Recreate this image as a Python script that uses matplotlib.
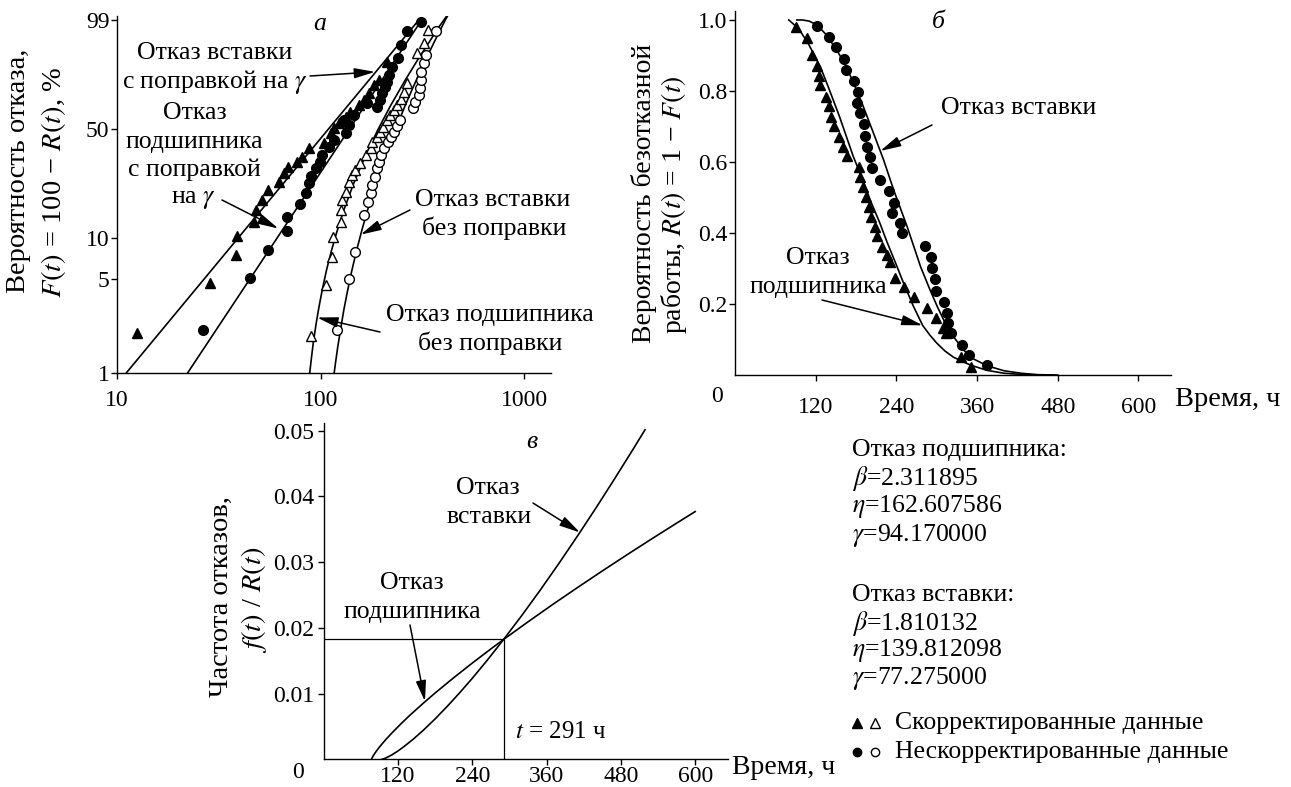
import numpy as np
import matplotlib
matplotlib.use('Agg')
import matplotlib.pyplot as plt
from matplotlib.ticker import NullLocator

plt.rcParams['font.family'] = ['Liberation Serif', 'DejaVu Serif']
plt.rcParams['mathtext.fontset'] = 'stix'
plt.rcParams['font.size'] = 17
plt.rcParams['axes.linewidth'] = 1.0

W, H = 1291, 787

# ---- panel a: Weibull probability plot (t, F %) ----
ins_cor_t = [12.6, 28.6, 38.3, 38.8, 47.1, 48.0, 51.4, 54.8, 62.5, 66.1, 68.7, 76.3, 81.3, 87.6,
             103.8, 112, 116, 123, 132.5, 140, 154, 163, 172.5, 182.5, 193, 212]
ins_cor_F = [2.0, 4.7, 7.5, 10.3, 13.0, 15.7, 18.3, 21.4, 24.3, 27.5, 30.3, 32.6, 34.9, 39.2,
             41.9, 47.5, 50.5, 53.6, 57.7, 60.9, 65.2, 68.3, 72.5, 77.5, 80.4, 89.3]
bear_cor_t = [26.3, 45.0, 54.8, 68.1, 68.1, 79.2, 84.4, 87.6, 89.6, 94.5, 99.4, 101.8, 110, 116,
              132.5, 137.3, 129.6, 145, 169, 188, 195.5, 200.5, 206, 212, 216, 224.6, 239.3, 247,
              266, 311.7]
bear_cor_F = [2.1, 5.1, 8.1, 11.2, 13.9, 17.2, 20.4, 23.7, 26.6, 29.6, 32.5, 35.8, 40.0, 43.7,
              47.5, 52.5, 55.6, 58.8, 66.2, 64.1, 68.3, 72.5, 76.1, 79.4, 83.1, 87.1, 90.7, 95.0,
              97.7, 98.8]
ins_unc_t = [89.3, 105.8, 114, 115, 125.3, 125.3, 127.7, 132.6, 137.6, 142.7, 147.9, 156.5, 166,
             175.6, 179, 188, 195.5, 203, 212, 220, 228.5, 237.5, 246.7, 256, 265.8, 297, 320, 337]
ins_unc_F = [1.9, 4.5, 7.3, 10.1, 13.0, 15.7, 18.3, 20.9, 24.0, 26.9, 28.9, 31.8, 35.8,
             39.2, 42.8, 45.6, 48.5, 51.5, 55.6, 58.8, 62.0, 65.2, 68.8, 73.5, 78.5, 92.5, 95.4, 97.9]
bear_unc_t = [120.8, 137.5, 148, 163, 171, 175.6, 179, 183.8, 188.5, 193.4, 197.2, 205, 213, 220.7,
              229, 236, 244.5, 284.7, 291, 302.6, 306.3, 311.7, 311.7, 320.5, 330, 366]
bear_unc_F = [2.1, 5.0, 7.9, 14.5, 17.9, 20.4, 23.1, 26.2, 29.6, 32.5, 35.8, 39.2, 42.8, 45.6,
              48.5, 51.9, 55.6, 63.1, 67.2, 71.5, 75.5, 80.4, 84.7, 88.6, 91.9, 97.7]

# fitted lines / curves
ins_cor_line_t = [11.1, 303]
ins_cor_line_F = [1, 99]
bear_cor_line_t = [22.2, 313]
bear_cor_line_F = [1, 99]
ins_unc_curve_t = [88.3, 90, 92, 95, 98, 102, 107, 113, 120, 130, 145, 165, 190, 220, 260, 300,
                   340, 380, 402, 415]
ins_unc_curve_F = [1.0, 1.29, 1.7, 2.35, 3.1, 4.25, 5.9, 8.1, 11.0, 15.7, 23.6, 34.9, 49.2, 64.6,
                   80.3, 90.2, 95.6, 98.3, 98.99, 99.28]
bear_unc_curve_t = [116.4, 118, 121, 125, 130, 135, 142, 150, 160, 170, 185, 200, 220, 240, 260,
                    280, 300, 320, 340, 360, 380, 400, 410, 420]
bear_unc_curve_F = [1.0, 1.17, 1.54, 2.1, 2.99, 4.0, 5.74, 8.1, 11.6, 15.7, 22.9, 31.0, 42.5, 54.0,
                    64.9, 74.4, 82.2, 88.2, 92.6, 95.6, 97.5, 98.65, 99.04, 99.3]

# ---- panel b: reliability R(t) ----
tri_R_t = [90.9, 106.9, 114.3, 121.7, 125.2, 126.7, 135, 140, 142.5, 147.5, 154, 160.4, 166.4,
           183.8, 186.3, 189.8, 194.8, 198.8, 202.3, 207.8, 211.2, 218.7, 226.2, 231.2, 238.7,
           251, 266, 285, 298.2, 309.7, 313.2, 335.6, 350.5]
tri_R = [0.979, 0.948, 0.901, 0.870, 0.842, 0.817, 0.784, 0.758, 0.728, 0.70, 0.671, 0.643, 0.617,
         0.587, 0.559, 0.53, 0.502, 0.474, 0.446, 0.418, 0.392, 0.361, 0.338, 0.319, 0.272,
         0.249, 0.219, 0.188, 0.160, 0.131, 0.117, 0.052, 0.023]
circ_R_t = [121.7, 139.1, 150.6, 162.5, 164.5, 176.4, 182.3, 181.3, 185.3, 191.3, 193.8, 196.3,
            200.2, 203.7, 216.2, 228.6, 236, 233.6, 245, 248.5, 283.3, 290.8, 293.3, 296.8, 298.2,
            310.7, 314.7, 316.7, 320.7, 338, 348, 375]
circ_R = [0.983, 0.953, 0.925, 0.889, 0.859, 0.829, 0.798, 0.765, 0.737, 0.707, 0.673, 0.643,
          0.615, 0.582, 0.549, 0.518, 0.485, 0.455, 0.429, 0.399, 0.363, 0.332, 0.30, 0.27, 0.237,
          0.207, 0.176, 0.146, 0.117, 0.085, 0.056, 0.028]
bear_R_curve_t = [80, 95, 110, 127, 140, 155, 176, 190, 201, 215, 226, 240, 250, 265, 279, 290,
                  300, 312, 325, 350, 375, 400, 430, 460, 480]
bear_R_curve = [1.0, 0.975, 0.93, 0.868, 0.805, 0.73, 0.615, 0.55, 0.493, 0.43, 0.375, 0.31,
                0.262, 0.195, 0.14, 0.112, 0.09, 0.068, 0.05, 0.028, 0.013, 0.005, 0.001, 0.0, 0.0]
ins_R_curve_t = [92, 100, 110, 122, 135, 151.5, 165, 176.4, 190, 206, 221, 236, 256, 276, 290, 301,
                 313, 325, 340, 355, 375, 400, 425, 450, 475]
ins_R_curve = [1.0, 1.0, 0.997, 0.986, 0.96, 0.915, 0.87, 0.822, 0.76, 0.681, 0.606, 0.521, 0.418,
               0.305, 0.24, 0.192, 0.145, 0.108, 0.07, 0.045, 0.026, 0.012, 0.005, 0.001, 0.0]

# ---- panel c: hazard rate ----
bear_h_t = [94.17, 100, 110, 120, 130, 145, 160, 180, 200, 220, 240, 265, 291, 320, 350, 380, 410,
            440, 470, 500, 519]
bear_h = [0.0, 0.000181, 0.00067, 0.00127, 0.00196, 0.00309, 0.00434, 0.00615, 0.0081, 0.01016,
          0.01232, 0.01517, 0.01828, 0.02188, 0.02577, 0.02981, 0.03398, 0.03827, 0.04269,
          0.04721, 0.05013]
ins_h_t = [77.3, 78, 80, 83, 87, 92, 100, 110, 125, 140, 160, 180, 210, 240, 270, 291, 330, 370,
           410, 450, 490, 530, 570, 600]
ins_h = [0.0, 0.000182, 0.000533, 0.000974, 0.001494, 0.00209, 0.00297, 0.00399, 0.00542, 0.00677,
         0.00846, 0.01009, 0.01241, 0.01464, 0.01679, 0.01826, 0.02091, 0.02356, 0.02613, 0.02865,
         0.03112, 0.03354, 0.03592, 0.03768]
t_cross = 291
h_cross = 0.0183

time_ticks = [120, 240, 360, 480, 600]
bear_params = [2.311895, 162.607586, 94.170000]
ins_params = [1.810132, 139.812098, 77.275000]
param_syms = [r'$\beta$', r'$\eta$', r'$\gamma$']


def rect(l, t, r, b):
    return [l / W, 1 - b / H, (r - l) / W, (b - t) / H]


def style(ax):
    for s in ('top', 'right'):
        ax.spines[s].set_visible(False)
    ax.tick_params(direction='out', length=4, width=1, labelsize=17)


def wb_fwd(p):
    p = np.clip(np.asarray(p, dtype=float), 1e-6, 100 - 1e-6)
    return np.log(-np.log(1 - p / 100))


def wb_inv(v):
    return 100 * (1 - np.exp(-np.exp(v)))


fig = plt.figure(figsize=(W / 100, H / 100), dpi=100)

line_kw = dict(color='k', lw=1.2)
mk = 7.5

# panel a
ax_a = fig.add_axes(rect(117, 15.7, 551, 373))
ax_a.set_xscale('log')
ax_a.set_yscale('function', functions=(wb_fwd, wb_inv))
ax_a.set_xlim(10, 1350)
ax_a.set_ylim(1, 99.3)
ax_a.plot(ins_cor_line_t, ins_cor_line_F, **line_kw)
ax_a.plot(bear_cor_line_t, bear_cor_line_F, **line_kw)
ax_a.plot(ins_unc_curve_t, ins_unc_curve_F, **line_kw)
ax_a.plot(bear_unc_curve_t, bear_unc_curve_F, **line_kw)
ax_a.plot(ins_cor_t, ins_cor_F, '^', color='k', ms=mk, zorder=3)
ax_a.plot(bear_cor_t, bear_cor_F, 'o', color='k', ms=mk - 0.5, zorder=3)
ax_a.plot(ins_unc_t, ins_unc_F, '^', mfc='white', mec='k', mew=1, ms=mk, zorder=3)
ax_a.plot(bear_unc_t, bear_unc_F, 'o', mfc='white', mec='k', mew=1, ms=mk - 0.5, zorder=3)
ax_a.set_xticks([10, 100, 1000])
ax_a.set_xticklabels(['10', '100', '1000'])
ax_a.xaxis.set_minor_locator(NullLocator())
ax_a.set_yticks([1, 5, 10, 50, 99])
ax_a.set_yticklabels(['1', '5', '10', '50', '99'])
ax_a.yaxis.set_minor_locator(NullLocator())
style(ax_a)
ax_a.tick_params(axis='x', pad=8)
ax_a.tick_params(axis='y', pad=1.5)

# panel b
ax_b = fig.add_axes(rect(735, 11.1, 1170.7, 375))
ax_b.set_xlim(0, 648)
ax_b.set_ylim(0, 1.025)
ax_b.plot(bear_R_curve_t, bear_R_curve, **line_kw)
ax_b.plot(ins_R_curve_t, ins_R_curve, **line_kw)
ax_b.plot(tri_R_t, tri_R, '^', color='k', ms=mk, zorder=3)
ax_b.plot(circ_R_t, circ_R, 'o', color='k', ms=mk - 0.5, zorder=3)
ax_b.set_xticks(time_ticks)
ax_b.set_yticks([0.2, 0.4, 0.6, 0.8, 1.0])
ax_b.set_yticklabels(['0.2', '0.4', '0.6', '0.8', '1.0'])
style(ax_b)
ax_b.tick_params(axis='x', pad=12)
ax_b.tick_params(axis='y', pad=1.5)

# panel c
ax_c = fig.add_axes(rect(323.7, 422.7, 728, 759.3))
ax_c.set_xlim(0, 653)
ax_c.set_ylim(0, 0.0512)
ax_c.plot(bear_h_t, bear_h, **line_kw)
ax_c.plot(ins_h_t, ins_h, **line_kw)
ax_c.plot([0, t_cross, t_cross], [h_cross, h_cross, 0], color='k', lw=0.9)
ax_c.set_xticks(time_ticks)
ax_c.set_yticks([0.01, 0.02, 0.03, 0.04, 0.05])
ax_c.set_yticklabels(['0.01', '0.02', '0.03', '0.04', '0.05'])
style(ax_c)
ax_c.tick_params(axis='x', pad=0.5)
ax_c.tick_params(axis='y', pad=3)

# overlay in pixel coordinates for free text and arrows
ov = fig.add_axes([0, 0, 1, 1], zorder=10)
ov.set_xlim(0, W)
ov.set_ylim(H, 0)
ov.axis('off')
ov.patch.set_alpha(0)

fs = 18.5


def txt(x, y, s, ha='center', va='center', size=fs, **kw):
    ov.text(x, y, s, ha=ha, va=va, fontsize=size, **kw)


def arrow(ax, tip, tail):
    ov.annotate('', xy=tip, xycoords=ax.transData, xytext=tail, textcoords='data',
                arrowprops=dict(arrowstyle='-|>,head_length=0.9,head_width=0.22',
                                color='k', lw=1.1, shrinkA=0, shrinkB=0, mutation_scale=14))


# y labels
ylab = 20.5
txt(19, 171, 'Вероятность отказа,', rotation=90, size=ylab)
txt(54, 182, r'$F(t)$ = 100 − $R(t)$, %', rotation=90, size=ylab)
txt(644, 193, 'Вероятность безотказной', rotation=90, size=20)
txt(674, 205, r'работы, $R(t)$ = 1 − $F(t)$', rotation=90, size=20)
txt(221, 597, 'Частота отказов,', rotation=90, size=ylab)
txt(254, 600, r'$f(t)$ / $R(t)$', rotation=90, size=ylab)

# panel letters
txt(320, 24, 'а', style='italic')
txt(938, 22, 'б', style='italic')
txt(532, 442, 'в', style='italic')

# panel a annotations
txt(215, 53, 'Отказ вставки')
txt(215, 82, r'с поправкой на $\gamma$')
txt(195, 113, 'Отказ')
txt(194, 142, 'подшипника')
txt(194, 170, 'с поправкой')
txt(193, 200, r'на $\gamma$')
txt(493, 200, 'Отказ вставки')
txt(494, 228, 'без поправки')
txt(490, 315, 'Отказ подшипника')
txt(490, 343, 'без поправки')
arrow(ax_a, (185, 84.6), (310, 76))
arrow(ax_a, (62, 11.6), (222, 200))
arrow(ax_a, (157, 10.5), (410, 210))
arrow(ax_a, (96, 2.6), (380, 332))

# panel b annotations
txt(1019, 108, 'Отказ вставки')
txt(818, 258, 'Отказ')
txt(818, 287, 'подшипника')
arrow(ax_b, (216, 0.631), (932, 125))
arrow(ax_b, (279, 0.14), (822, 300))
txt(717, 397, '0', size=17)
txt(1175, 400, 'Время, ч', ha='left', size=20.5)

# panel c annotations
txt(488, 488, 'Отказ')
txt(489, 517, 'вставки')
txt(412, 583, 'Отказ')
txt(412, 612, 'подшипника')
arrow(ax_c, (414, 0.0345), (533, 503))
arrow(ax_c, (163.6, 0.0088), (410, 625))
txt(515, 732, r'$t$ = 291 ч', ha='left', size=18)
txt(298, 772, '0', size=17)
txt(732, 767, 'Время, ч', ha='left', size=20)

# parameter block
bs = 18.5
y0 = 450
txt(852, y0, 'Отказ подшипника:', ha='left', size=bs)
for i, (sym, v) in enumerate(zip(param_syms, bear_params)):
    txt(852, y0 + 28.5 * (i + 1), f'{sym}={v:.6f}', ha='left', size=bs)
y1 = 595
txt(852, y1, 'Отказ вставки:', ha='left', size=bs)
for i, (sym, v) in enumerate(zip(param_syms, ins_params)):
    txt(852, y1 + 28 * (i + 1), f'{sym}={v:.6f}', ha='left', size=bs)

ov.plot([857], [723], '^', color='k', ms=6.5)
ov.plot([875], [723], '^', mfc='white', mec='k', mew=1, ms=6.5)
ov.plot([857], [752], 'o', color='k', ms=6)
ov.plot([875], [752], 'o', mfc='white', mec='k', mew=1, ms=6)
txt(895, 723, 'Скорректированные данные', ha='left', size=bs)
txt(895, 752, 'Нескорректированные данные', ha='left', size=bs)

fig.savefig('out.png', dpi=100)
